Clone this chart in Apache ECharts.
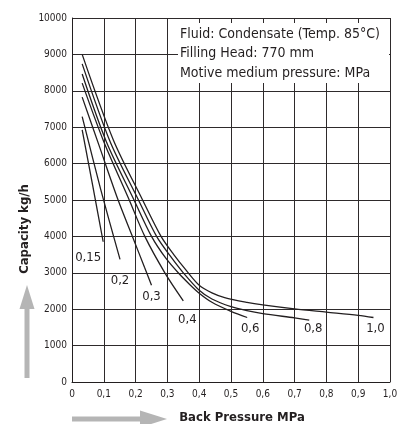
<!DOCTYPE html>
<html>
<head>
<meta charset="utf-8">
<script src="https://cdn.jsdelivr.net/npm/echarts@6/dist/echarts.min.js"></script>
<style>
html,body{margin:0;padding:0;background:#fff;}
#chart{width:401px;height:424px;}
</style>
</head>
<body>
<div id="chart"></div>
<script>
// ---- data ----
var pressureLabels = ['0,15', '0,2', '0,3', '0,4', '0,6', '0,8', '1,0'];
var xTickLabels = ['0', '0,1', '0,2', '0,3', '0,4', '0,5', '0,6', '0,7', '0,8', '0,9', '1,0'];

var x015 = [0.032, 0.065, 0.098];
var y015 = [6926, 5400, 3853];

var x02 = [0.032, 0.090, 0.151];
var y02 = [7292, 5300, 3368];

var x03 = [0.032, 0.085, 0.145, 0.190, 0.228, 0.250];
var y03 = [7826, 6500, 5000, 4000, 3150, 2660];

var x04 = [0.032, 0.100, 0.180, 0.229, 0.292, 0.350];
var y04 = [8210, 6600, 5000, 4000, 3000, 2230];

var x06 = [0.032, 0.108, 0.195, 0.250, 0.295, 0.334, 0.370, 0.400, 0.440, 0.500, 0.551];
var y06 = [8460, 6600, 5000, 4000, 3400, 3000, 2680, 2440, 2190, 1940, 1772];

var x08 = [0.032, 0.120, 0.209, 0.266, 0.310, 0.350, 0.400, 0.440, 0.500, 0.550, 0.600, 0.700, 0.746];
var y08 = [8740, 6600, 5000, 4000, 3450, 3000, 2520, 2280, 2070, 1960, 1880, 1760, 1700];

var x10 = [0.032, 0.130, 0.222, 0.280, 0.320, 0.360, 0.400, 0.440, 0.480, 0.550, 0.600, 0.700, 0.800, 0.900, 0.948];
var y10 = [9000, 6650, 5000, 4000, 3500, 3060, 2660, 2450, 2320, 2190, 2120, 2010, 1920, 1830, 1772];

var infoLines = ['Fluid: Condensate (Temp. 85°C)', 'Filling Head: 770 mm', 'Motive medium pressure: MPa'];
var yAxisTitle = 'Capacity kg/h';
var xAxisTitle = 'Back Pressure MPa';

// ---- styling (not data) ----
var FONT = "'DejaVu Sans Condensed', 'DejaVu Sans', sans-serif";
var INK = '#231f20';
var labelOffsets = [[-15, 4], [0, 10], [0, 0], [4, 7], [3, 0], [4, -3], [2, 0]];

var allX = [x015, x02, x03, x04, x06, x08, x10];
var allY = [y015, y02, y03, y04, y06, y08, y10];

var series = allX.map(function (xs, si) {
  var ys = allY[si];
  var data = xs.map(function (x, i) {
    var item = { value: [x, ys[i]] };
    if (i === xs.length - 1) {
      item.label = {
        show: true,
        position: 'bottom',
        distance: 5,
        formatter: pressureLabels[si],
        offset: labelOffsets[si],
        fontFamily: FONT,
        fontSize: 13,
        color: INK
      };
    }
    return item;
  });
  return {
    type: 'line',
    name: pressureLabels[si],
    data: data,
    smooth: 0.3,
    showSymbol: true,
    symbol: 'circle',
    symbolSize: 0,
    lineStyle: { color: INK, width: 1.3 },
    itemStyle: { color: INK },
    label: { show: false },
    emphasis: { disabled: true },
    z: 3
  };
});

var chart = echarts.init(document.getElementById('chart'), null, { renderer: 'canvas' });
chart.setOption({
  animation: false,
  backgroundColor: '#fff',
  grid: { left: 72, right: 11, top: 18, bottom: 42, containLabel: false },
  xAxis: {
    type: 'value', min: 0, max: 1, interval: 0.1,
    axisLine: { show: true, lineStyle: { color: INK, width: 1 } },
    axisTick: { show: false },
    splitLine: { show: true, lineStyle: { color: '#2e2a2b', width: 1 } },
    axisLabel: {
      margin: 7, fontFamily: FONT, fontSize: 10, color: INK,
      formatter: function (v) { return xTickLabels[Math.round(v * 10)]; }
    }
  },
  yAxis: {
    type: 'value', min: 0, max: 10000, interval: 1000,
    axisLine: { show: true, lineStyle: { color: INK, width: 1 } },
    axisTick: { show: false },
    splitLine: { show: true, lineStyle: { color: '#2e2a2b', width: 1 } },
    axisLabel: { margin: 5, fontFamily: FONT, fontSize: 10, color: INK,
      formatter: function (v) { return String(v); } }
  },
  graphic: [
    { type: 'rect', z: 100, shape: { x: 178, y: 23, width: 211, height: 60 }, style: { fill: '#fff' } },
    { type: 'text', z: 101, x: 180, y: 34, style: { text: infoLines[0], font: '14px ' + FONT, fill: INK, textVerticalAlign: 'middle' } },
    { type: 'text', z: 101, x: 180, y: 53.5, style: { text: infoLines[1], font: '14px ' + FONT, fill: INK, textVerticalAlign: 'middle' } },
    { type: 'text', z: 101, x: 180, y: 73, style: { text: infoLines[2], font: '14px ' + FONT, fill: INK, textVerticalAlign: 'middle' } },
    { type: 'text', z: 101, x: 25, y: 229, rotation: Math.PI / 2,
      style: { text: yAxisTitle, font: 'bold 13px ' + FONT, fill: INK, textAlign: 'center', textVerticalAlign: 'middle' } },
    { type: 'text', z: 101, x: 242, y: 418,
      style: { text: xAxisTitle, font: 'bold 13px ' + FONT, fill: INK, textAlign: 'center', textVerticalAlign: 'middle' } },
    // vertical gray arrow
    { type: 'rect', z: 90, shape: { x: 24.5, y: 305, width: 5, height: 73 }, style: { fill: '#b5b5b5' } },
    { type: 'polygon', z: 90, shape: { points: [[27, 285], [19.5, 309], [34.5, 309]] }, style: { fill: '#b5b5b5' } },
    // horizontal gray arrow
    { type: 'rect', z: 90, shape: { x: 72, y: 416.5, width: 70, height: 5 }, style: { fill: '#b5b5b5' } },
    { type: 'polygon', z: 90, shape: { points: [[167, 419], [140, 410.5], [140, 427.5]] }, style: { fill: '#b5b5b5' } }
  ],
  series: series
});
</script>
</body>
</html>
